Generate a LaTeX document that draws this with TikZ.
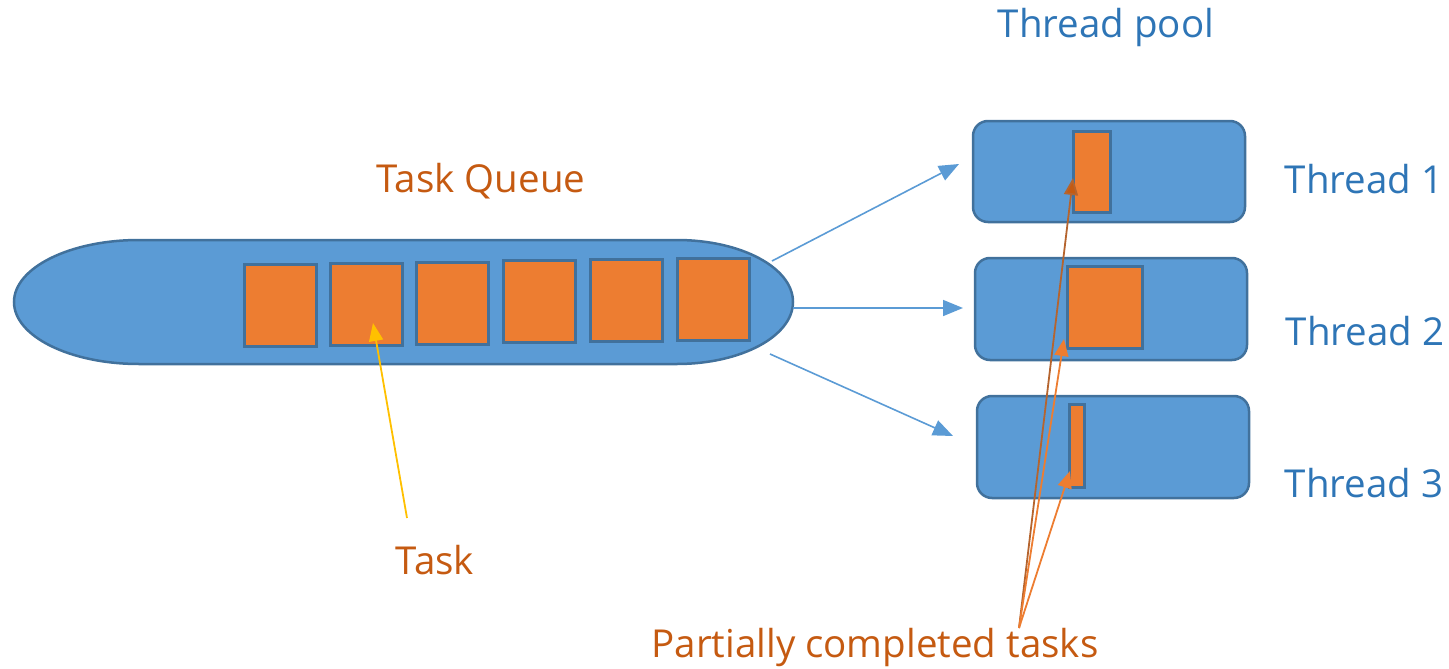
\documentclass[tikz,border=0pt]{standalone}
\usepackage{fontspec}
\setmainfont{Open Sans}
\usetikzlibrary{arrows.meta}
\definecolor{fillblue}{HTML}{5B9BD5}
\definecolor{edgeblue}{HTML}{41719C}
\definecolor{taskorange}{HTML}{ED7D31}
\definecolor{darkorange}{HTML}{C55A11}
\definecolor{textblue}{HTML}{2E75B6}
\definecolor{pointer}{HTML}{FFC000}
\tikzset{
  queue/.style={fill=fillblue, draw=edgeblue, line width=2.5pt},
  thread/.style={fill=fillblue, draw=edgeblue, line width=2.5pt, rounded corners=15pt},
  task/.style={fill=taskorange, draw=edgeblue, line width=3pt},
  dispatch/.style={draw=fillblue, line width=1.6pt, -{Triangle[length=20pt,width=16pt]}},
  progress/.style={draw=taskorange, line width=1.8pt, -{Triangle[length=17pt,width=14pt]}},
  label/.style={font=\fontsize{38.5}{38.5}\selectfont, anchor=base, inner sep=0pt},
  orangelabel/.style={label, text=darkorange},
  bluelabel/.style={label, text=textblue}
}
\begin{document}
\begin{tikzpicture}[x=1pt, y=-1pt]
\useasboundingbox (0,0) rectangle (1449,669);

% task queue body with elliptic ends
\draw[queue] (139,240) -- (677,240)
  arc[start angle=-90, end angle=90, x radius=116, y radius=62]
  -- (139,364)
  arc[start angle=90, end angle=270, x radius=125, y radius=62] -- cycle;
\coordinate (qtop) at (772,261);
\coordinate (qmid) at (793,308);
\coordinate (qbot) at (770,354);

% queued tasks
\node[task, minimum width=72pt, minimum height=82pt, inner sep=0pt] (t1) at (280,305) {};
\node[task, minimum width=72pt, minimum height=82pt, inner sep=0pt] (t2) at (366,304) {};
\node[task, minimum width=72pt, minimum height=82pt, inner sep=0pt] (t3) at (452,303) {};
\node[task, minimum width=72pt, minimum height=82pt, inner sep=0pt] (t4) at (539,301) {};
\node[task, minimum width=72pt, minimum height=82pt, inner sep=0pt] (t5) at (626,300) {};
\node[task, minimum width=72pt, minimum height=82pt, inner sep=0pt] (t6) at (713,299) {};

% threads
\node[thread, minimum width=272pt, minimum height=101pt, inner sep=0pt] (th1) at (1109,171.5) {};
\node[thread, minimum width=272pt, minimum height=102pt, inner sep=0pt] (th2) at (1111,309) {};
\node[thread, minimum width=272pt, minimum height=102pt, inner sep=0pt] (th3) at (1113,447) {};

% tasks in progress
\node[task, minimum width=37pt, minimum height=81pt, inner sep=0pt] (p1) at (1091.5,171.5) {};
\node[task, minimum width=75pt, minimum height=82pt, inner sep=0pt] (p2) at (1104.5,307) {};
\node[task, minimum width=15pt, minimum height=83pt, inner sep=0pt] (p3) at (1076.5,445.5) {};

% labels
\node[orangelabel] (lqueue) at (481,192) {Task Queue};
\node[bluelabel] (lpool) at (1106,38) {Thread pool};
\node[bluelabel] (l1) at (1364,193) {Thread 1};
\node[bluelabel] (l2) at (1365,345) {Thread 2};
\node[bluelabel] (l3) at (1364,497) {Thread 3};
\node[orangelabel] (ltask) at (435,574) {Task};
\node[orangelabel] (lpartial) at (875,657) {Partially completed tasks};

% dispatch arrows
\coordinate (d1) at (959,164);
\coordinate (d2) at (963,308);
\coordinate (d3) at (953,436);
\draw[dispatch] (qtop) -- (d1);
\draw[dispatch] (qmid) -- (d2);
\draw[dispatch] (qbot) -- (d3);

% pointer to a single task
\coordinate (taskfoot) at (407,518);
\coordinate (tasktip) at (373,323);
\draw[pointer, line width=1.8pt, -{Triangle[length=18pt,width=14pt]}] (taskfoot) -- (tasktip);

% pointers to partially completed tasks
\coordinate (pfoot) at (1019,628);
\coordinate (pt1) at (1073,178);
\coordinate (pt2) at (1064,339);
\coordinate (pt3) at (1070,471);
\draw[progress, draw=darkorange!85!fillblue, -{Triangle[length=17pt,width=14pt,fill=darkorange]}] (pfoot) -- (pt1);
\draw[progress] (pfoot) -- (pt2);
\draw[progress] (pfoot) -- (pt3);
\end{tikzpicture}
\end{document}
